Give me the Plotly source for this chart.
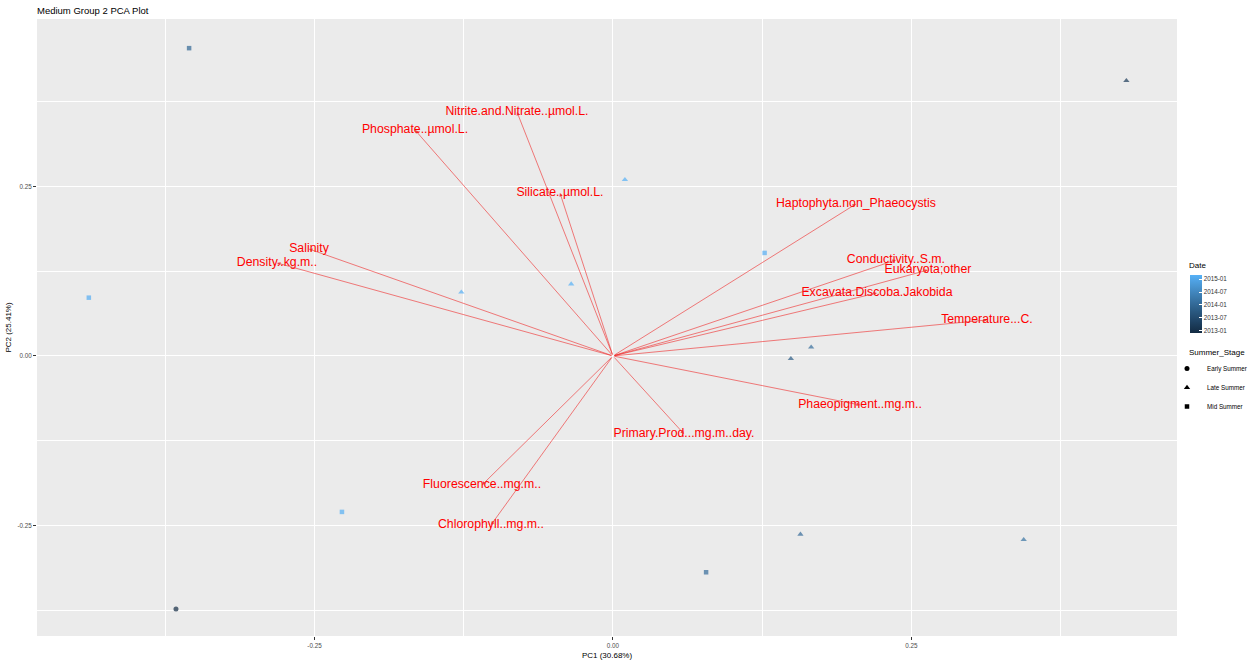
import numpy as np
import pandas as pd
import plotly.graph_objects as go

# ---- text ----
plot_title = "Medium Group 2 PCA Plot"
pc1_title = "PC1 (30.68%)"
pc2_title = "PC2 (25.41%)"
color_title = "Date"
shape_title = "Summer_Stage"

# ---- sample scores ----
pc1 = [-0.355, 0.430, 0.010, 0.127, -0.439, -0.127, -0.035,
       0.166, 0.149, -0.227, 0.157, 0.344, 0.078, -0.366]
pc2 = [0.454, 0.406, 0.260, 0.152, 0.086, 0.094, 0.106,
       0.013, -0.004, -0.230, -0.263, -0.271, -0.319, -0.373]
sample_dates = ["2013-12-20", "2013-03-10", "2015-02-25", "2015-02-10",
                "2015-02-05", "2015-02-15", "2015-02-20", "2014-01-20",
                "2013-10-15", "2015-02-12", "2014-01-10", "2014-03-01",
                "2014-01-15", "2012-11-20"]
summer_stage = ["Mid Summer", "Late Summer", "Late Summer", "Mid Summer",
                "Mid Summer", "Late Summer", "Late Summer", "Late Summer",
                "Late Summer", "Mid Summer", "Late Summer", "Late Summer",
                "Mid Summer", "Early Summer"]

# ---- variable loadings ----
loading_names = ["Nitrite.and.Nitrate..µmol.L.", "Phosphate..µmol.L.",
                 "Silicate..µmol.L.", "Haptophyta.non_Phaeocystis",
                 "Conductivity..S.m.", "Eukaryota;other",
                 "Excavata.Discoba.Jakobida", "Temperature...C.",
                 "Phaeopigment..mg.m..", "Primary.Prod...mg.m..day.",
                 "Fluorescence..mg.m..", "Chlorophyll..mg.m..",
                 "Salinity", "Density..kg.m.."]
loading_pc1 = [-0.0804, -0.1658, -0.0444, 0.2035, 0.2370, 0.2638, 0.2211,
               0.3132, 0.2069, 0.0595, -0.1097, -0.1022, -0.2546, -0.2814]
loading_pc2 = [0.3599, 0.3333, 0.2404, 0.2242, 0.1416, 0.1268, 0.0929,
               0.0531, -0.0723, -0.1150, -0.1903, -0.2493, 0.1578, 0.1372]

# ---- legend / colour bar labels ----
stage_levels = ["Early Summer", "Late Summer", "Mid Summer"]
date_ticks = ["2013-01", "2013-07", "2014-01", "2014-07", "2015-01"]

stage_symbol = {"Early Summer": "circle", "Late Summer": "triangle-up",
                "Mid Summer": "square"}
stage_size = {"Early Summer": 5, "Late Summer": 5.5, "Mid Summer": 4.5}

origin = pd.Timestamp("2013-01-01")
def months_since(d):
    return (pd.Timestamp(d) - origin).days / 30.4375

date_vals = [months_since(d) for d in sample_dates]
date_tickvals = [months_since(t + "-01") for t in date_ticks]


# ggplot-style sequential blue gradient, interpolated in CIE Lab
def _srgb_to_lab(hexc):
    rgb = np.array([int(hexc[i:i + 2], 16) for i in (1, 3, 5)]) / 255.0
    lin = np.where(rgb <= 0.04045, rgb / 12.92, ((rgb + 0.055) / 1.055) ** 2.4)
    m = np.array([[0.4124, 0.3576, 0.1805],
                  [0.2126, 0.7152, 0.0722],
                  [0.0193, 0.1192, 0.9505]])
    xyz = m @ lin / np.array([0.95047, 1.0, 1.08883])
    f = np.where(xyz > 0.008856, np.cbrt(xyz), 7.787 * xyz + 16 / 116)
    return np.array([116 * f[1] - 16, 500 * (f[0] - f[1]), 200 * (f[1] - f[2])])


def _lab_to_hex(lab):
    L, a, b = lab
    fy = (L + 16) / 116
    fx = fy + a / 500
    fz = fy - b / 200
    f = np.array([fx, fy, fz])
    xyz = np.where(f ** 3 > 0.008856, f ** 3, (f - 16 / 116) / 7.787)
    xyz = xyz * np.array([0.95047, 1.0, 1.08883])
    m = np.array([[3.2406, -1.5372, -0.4986],
                  [-0.9689, 1.8758, 0.0415],
                  [0.0557, -0.2040, 1.0570]])
    lin = np.clip(m @ xyz, 0, 1)
    rgb = np.where(lin <= 0.0031308, 12.92 * lin, 1.055 * lin ** (1 / 2.4) - 0.055)
    rgb = np.clip(np.round(rgb * 255), 0, 255).astype(int)
    return "#%02x%02x%02x" % tuple(rgb)


lo, hi = _srgb_to_lab("#132B43"), _srgb_to_lab("#56B1F7")
colorscale = [[t, _lab_to_hex(lo + (hi - lo) * t)] for t in np.linspace(0, 1, 11)]

FONT = "Liberation Sans, Arial, sans-serif"
W, H = 1253, 665
ML, MR, MT, MB = 37, 76, 19, 29
PW, PH = W - ML - MR, H - MT - MB


def px_x(px):
    return (px - ML) / PW


def px_y(py):
    return (H - MB - py) / PH


fig = go.Figure()

# variable arrows from the origin
for nm, lx, ly in zip(loading_names, loading_pc1, loading_pc2):
    fig.add_annotation(x=lx, y=ly, ax=0, ay=0, xref="x", yref="y",
                       axref="x", ayref="y", text="", showarrow=True,
                       arrowhead=2, arrowsize=1.0, arrowwidth=0.7,
                       arrowcolor="rgba(240,40,40,0.85)",
                       standoff=0, startstandoff=0)

# sample points coloured by date, shaped by summer stage
fig.add_trace(go.Scatter(
    x=pc1, y=pc2, mode="markers", showlegend=False, hoverinfo="skip",
    marker=dict(
        symbol=[stage_symbol[s] for s in summer_stage],
        size=[stage_size[s] for s in summer_stage],
        color=date_vals, colorscale=colorscale,
        cmin=min(date_vals), cmax=max(date_vals),
        line=dict(width=0),
        colorbar=dict(
            xref="container", yref="container",
            x=1190 / W, xanchor="left",
            y=1 - 328 / H, yanchor="middle",
            len=58, lenmode="pixels", thickness=12,
            outlinewidth=0, xpad=0, ypad=0,
            tickvals=date_tickvals, ticktext=date_ticks,
            ticks="inside", ticklen=3, tickcolor="white",
            tickfont=dict(size=6.3, color="#333333", family=FONT),
        ),
    ),
))

# variable names at arrow tips
fig.add_trace(go.Scatter(
    x=loading_pc1, y=loading_pc2, mode="text", text=loading_names,
    textposition="middle center", showlegend=False, hoverinfo="skip",
    textfont=dict(size=12.3, color="#ff0000", family=FONT),
))

# shape legend entries
for s in stage_levels:
    fig.add_trace(go.Scatter(
        x=[None], y=[None], mode="markers", name=s,
        marker=dict(symbol=stage_symbol[s], size=stage_size[s],
                    color="black"),
    ))

# guide titles
fig.add_annotation(text=color_title, xref="paper", yref="paper",
                   x=px_x(1187), y=px_y(265), xanchor="left", yanchor="middle",
                   showarrow=False,
                   font=dict(size=8, color="#000000", family=FONT))
fig.add_annotation(text=shape_title, xref="paper", yref="paper",
                   x=px_x(1187), y=px_y(352), xanchor="left", yanchor="middle",
                   showarrow=False,
                   font=dict(size=8, color="#000000", family=FONT))

axis_common = dict(
    showgrid=True, gridcolor="white", gridwidth=1.1, zeroline=False,
    ticks="outside", ticklen=3, tickcolor="#333333", tickwidth=0.8,
    tickfont=dict(size=6.3, color="#4D4D4D", family=FONT),
    showline=False, automargin=False,
)

fig.update_layout(
    width=W, height=H,
    margin=dict(l=ML, r=MR, t=MT, b=MB),
    paper_bgcolor="white", plot_bgcolor="#EBEBEB",
    font=dict(family=FONT),
    title=dict(text=plot_title, x=37 / W, xanchor="left",
               y=1 - 11 / H, yanchor="middle",
               font=dict(size=9.5, color="#000000", family=FONT)),
    xaxis=dict(range=[-0.4824, 0.4724], tickvals=[-0.25, 0, 0.25],
               ticktext=["-0.25", "0.00", "0.25"],
               minor=dict(tickvals=[-0.375, -0.125, 0.125, 0.375],
                          showgrid=True, gridcolor="white", gridwidth=0.5),
               title=dict(text=pc1_title, standoff=4,
                          font=dict(size=8, color="#000000", family=FONT)),
               **axis_common),
    yaxis=dict(range=[-0.413, 0.497], tickvals=[-0.25, 0, 0.25],
               ticktext=["-0.25", "0.00", "0.25"],
               minor=dict(tickvals=[-0.375, -0.125, 0.125, 0.375],
                          showgrid=True, gridcolor="white", gridwidth=0.5),
               title=dict(text=pc2_title, standoff=4,
                          font=dict(size=8, color="#000000", family=FONT)),
               **axis_common),
    legend=dict(
        font=dict(size=6.3, color="#000000", family=FONT),
        xref="container", yref="container",
        x=1178 / W, xanchor="left",
        y=1 - 354 / H, yanchor="top", indentation=-11,
        bgcolor="rgba(0,0,0,0)", itemwidth=30, tracegroupgap=0,
    ),
)

fig.write_html("out.html", config={"displayModeBar": False})
